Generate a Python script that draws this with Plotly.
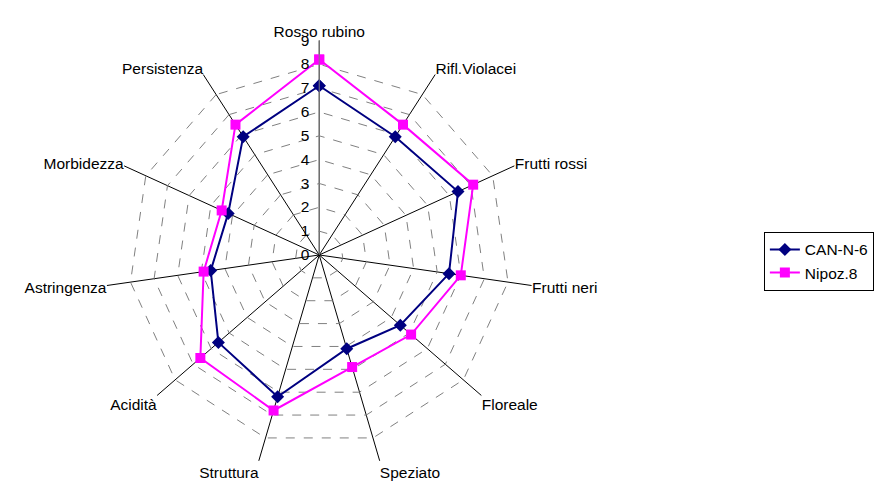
import plotly.graph_objects as go

categories = ["Rosso rubino", "Rifl.Violacei", "Frutti rossi", "Frutti neri", "Floreale",
              "Speziato", "Struttura", "Acidità", "Astringenza", "Morbidezza", "Persistenza"]
can_n_6 = [7.1, 5.9, 6.4, 5.5, 4.5, 4.1, 6.2, 5.6, 4.6, 4.2, 5.9]
nipoz_8 = [8.2, 6.5, 7.1, 6.0, 5.1, 4.9, 6.8, 6.6, 4.9, 4.5, 6.5]
radial_ticks = [0, 1, 2, 3, 4, 5, 6, 7, 8, 9]

FONT = "Liberation Sans, Arial, sans-serif"

fig = go.Figure()
fig.add_trace(go.Scatterpolar(
    r=can_n_6 + can_n_6[:1], theta=categories + categories[:1], name="CAN-N-6",
    mode="lines+markers", line=dict(color="#000080", width=2),
    marker=dict(symbol="diamond", size=10, color="#000080")))
fig.add_trace(go.Scatterpolar(
    r=nipoz_8 + nipoz_8[:1], theta=categories + categories[:1], name="Nipoz.8",
    mode="lines+markers", line=dict(color="#FF00FF", width=2),
    marker=dict(symbol="square", size=10, color="#FF00FF")))

fig.update_layout(
    width=874, height=481,
    margin=dict(l=0, r=0, t=0, b=0),
    paper_bgcolor="white", plot_bgcolor="white",
    font=dict(family=FONT, size=15.5, color="black"),
    polar=dict(
        domain=dict(x=[0.1201, 0.6121], y=[0.0229, 0.9169]),
        bgcolor="white",
        gridshape="linear",
        radialaxis=dict(range=[0, 9], tickvals=radial_ticks, ticktext=[str(t) for t in radial_ticks],
                        angle=90, tickangle=90, side="counterclockwise",
                        showline=True, linecolor="#808080", linewidth=1,
                        gridcolor="#808080", griddash="dash", gridwidth=1,
                        ticks="outside", ticklen=4, tickcolor="rgba(0,0,0,0)",
                        tickfont=dict(size=15.5)),
        angularaxis=dict(rotation=90, direction="clockwise", showline=False,
                         gridcolor="black", gridwidth=1, ticks="",
                         tickfont=dict(size=15.5)),
    ),
    legend=dict(x=0.876, y=0.518, xanchor="left", yanchor="top",
                bordercolor="black", borderwidth=1, bgcolor="white",
                font=dict(size=15.5), tracegroupgap=0, itemwidth=30),
)

fig.write_html("out.html")
